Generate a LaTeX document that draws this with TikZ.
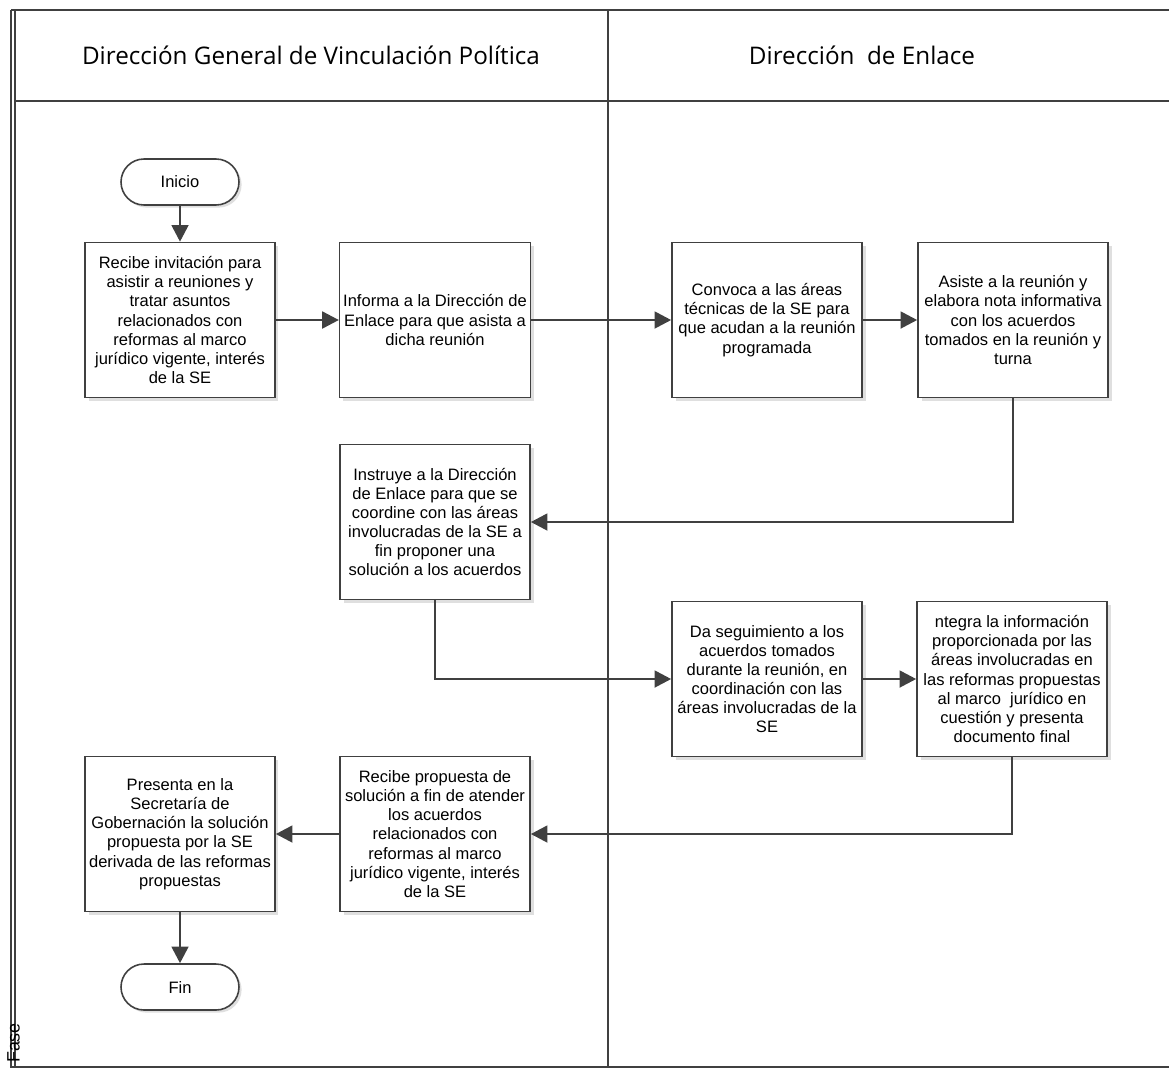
\documentclass[tikz,border=0pt]{standalone}
\usepackage{fontspec}
\setmainfont{Liberation Sans}
\newfontfamily\headfont{Open Sans}
\usetikzlibrary{arrows.meta,shadows}

\definecolor{linegray}{HTML}{404040}

\begin{document}
\begin{tikzpicture}[x=0.02cm,y=-0.02cm,
  every node/.style={font=\fontsize{9.4pt}{10.9pt}\selectfont},
  task/.style={draw=linegray,line width=0.9pt,fill=white,align=center,
    minimum width=3.8cm,minimum height=3.1cm,inner sep=2pt,
    drop shadow={opacity=0.25,shadow xshift=2pt,shadow yshift=-2pt}},
  terminal/.style={draw=linegray,line width=0.9pt,fill=white,rounded corners=0.46cm,
    minimum width=2.36cm,minimum height=0.92cm,
    drop shadow={opacity=0.25,shadow xshift=1.5pt,shadow yshift=-1.5pt}},
  flow/.style={draw=linegray,line width=1.6pt,
    -{Triangle[length=9.5pt,width=9.5pt]},color=linegray},
  lane/.style={draw=linegray,line width=1pt},
  title/.style={font=\headfont\fontsize{13.8pt}{16pt}\selectfont}]
\useasboundingbox (0,0) rectangle (1169,1069);

% marco
\draw [lane,line width=1.3pt] (11,10) -- (1169,10);
\draw [lane] (11,10) -- (11,1067) -- (1169,1067);
\draw [lane] (15,10) -- (15,1067);
\draw [lane] (15,101) -- (1169,101);
\draw [lane,line width=1.5pt] (608,10) -- (608,1067);
\node[title] (laneA) at (311,55) {Dirección General de Vinculación Política};
\node[title] (laneB) at (862,55) {Dirección~~de Enlace};
\node[rotate=90,font=\fontsize{10.2pt}{12pt}\selectfont] (fase) at (13.5,1043) {Fase};

% actividades
\node[terminal] (inicio) at (180,182) {Inicio};
\node[task] (recibe) at (180,320) {Recibe invitación para\\asistir a reuniones y\\tratar asuntos\\relacionados con\\reformas al marco\\jurídico vigente, interés\\de la SE};
\node[task] (informa) at (435,320) {Informa a la Dirección de\\Enlace para que asista a\\dicha reunión};
\node[task] (convoca) at (767,320) {Convoca a las áreas\\técnicas de la SE para\\que acudan a la reunión\\programada};
\node[task] (asiste) at (1013,320) {Asiste a la reunión y\\elabora nota informativa\\con los acuerdos\\tomados en la reunión y\\turna};
\node[task] (instruye) at (435,522) {Instruye a la Dirección\\de Enlace para que se\\coordine con las áreas\\involucradas de la SE a\\fin proponer una\\solución a los acuerdos};
\node[task] (seguimiento) at (767,679) {Da seguimiento a los\\acuerdos tomados\\durante la reunión, en\\coordinación con las\\áreas involucradas de la\\SE};
\node[task] (integra) at (1012,679) {ntegra la información\\proporcionada por las\\áreas involucradas en\\las reformas propuestas\\al marco~ jurídico en\\cuestión y presenta\\documento final};
\node[task] (propuesta) at (435,834) {Recibe propuesta de\\solución a fin de atender\\los acuerdos\\relacionados con\\reformas al marco\\jurídico vigente, interés\\de la SE};
\node[task] (presenta) at (180,834) {Presenta en la\\Secretaría de\\Gobernación la solución\\propuesta por la SE\\derivada de las reformas\\propuestas};
\node[terminal] (fin) at (180,987) {Fin};

% conectores
\draw [flow] (inicio) -- (recibe);
\draw [flow] (recibe) -- (informa);
\draw [flow] (informa) -- (convoca);
\draw [flow] (convoca) -- (asiste);
\draw [flow] (asiste.south) |- (instruye.east);
\draw [flow] (instruye.south) |- (seguimiento.west);
\draw [flow] (seguimiento) -- (integra);
\draw [flow] (integra.south) |- (propuesta.east);
\draw [flow] (propuesta) -- (presenta);
\draw [flow] (presenta) -- (fin);
\end{tikzpicture}
\end{document}
